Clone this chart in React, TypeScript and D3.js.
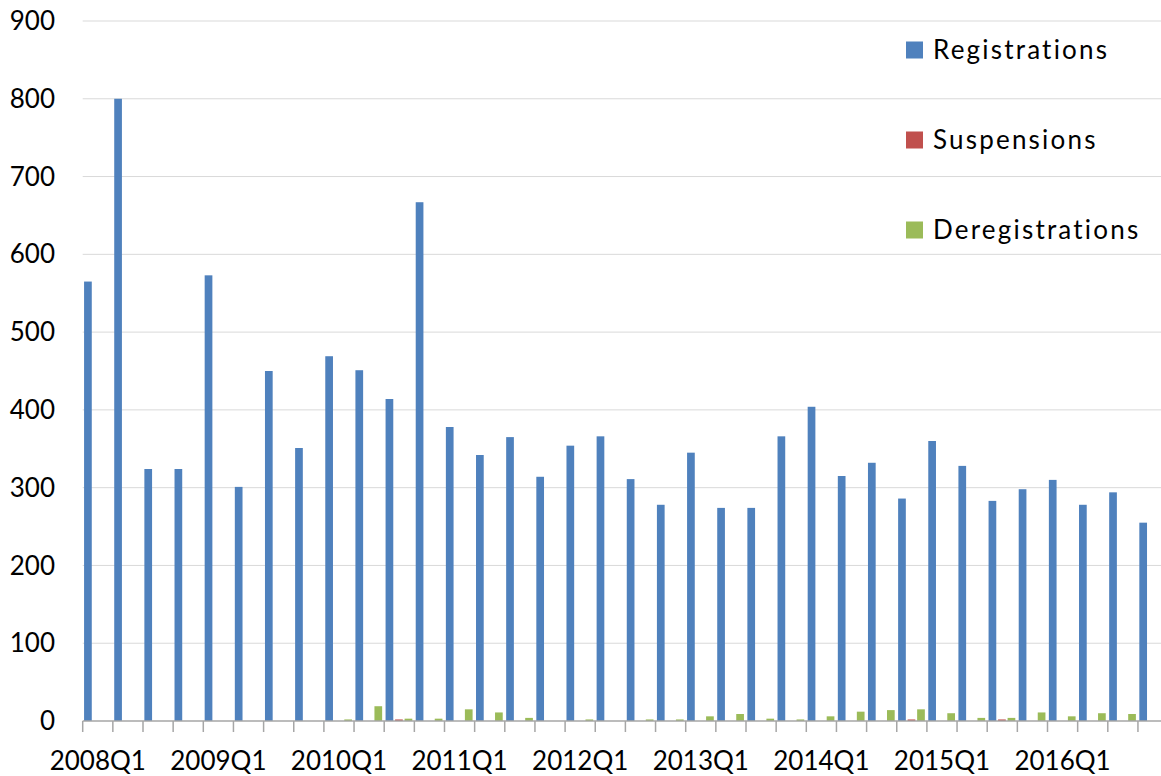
import React from "react";
import * as d3 from "d3";

const quarters: string[] = [];
for (let y = 2008; y <= 2016; y++) for (let q = 1; q <= 4; q++) quarters.push(`${y}Q${q}`);

const seriesNames = ["Registrations", "Suspensions", "Deregistrations"];
const seriesColors = ["#4f81bd", "#c0504d", "#9bbb59"];

const registrations = [
  565, 800, 324, 324, 573, 301, 450, 351, 469, 451, 414, 667,
  378, 342, 365, 314, 354, 366, 311, 278, 345, 274, 274, 366,
  404, 315, 332, 286, 360, 328, 283, 298, 310, 278, 294, 255,
];
const suspensions = [
  0, 0, 0, 0, 0, 0, 0, 0, 0, 0, 2, 0,
  0, 0, 0, 0, 0, 0, 0, 0, 0, 0, 0, 0,
  0, 0, 0, 2, 0, 0, 2, 0, 0, 0, 0, 0,
];
const deregistrations = [
  0, 0, 0, 0, 0, 0, 0, 0, 2, 19, 3, 3,
  15, 11, 4, 0, 2, 0, 2, 2, 6, 9, 3, 2,
  6, 12, 14, 15, 10, 4, 4, 11, 6, 10, 9, 0,
];
const yTicks = [0, 100, 200, 300, 400, 500, 600, 700, 800, 900];

const W = 1161;
const H = 776;
const FONT = "Lato, 'Open Sans', sans-serif";

export default function App() {
  const catW = 30.15;
  const x0 = 82.7;
  const x = d3.scaleBand<string>().domain(quarters).range([x0, x0 + catW * quarters.length]).paddingInner(0).paddingOuter(0);
  const x1 = d3.scaleBand<string>().domain(seriesNames).range([0, x.bandwidth()]).paddingInner(0.19).paddingOuter(0.18).align(0.4);
  const y = d3.scaleLinear().domain([0, 900]).range([721, 21]);
  const data = [registrations, suspensions, deregistrations];
  const labelQuarters = quarters.filter((q) => q.endsWith("Q1"));
  const boundaries = quarters.map((q) => x(q) as number);

  return (
    <svg width={W} height={H} style={{ position: "absolute", left: 0, top: 0, background: "#fff" }} fontFamily={FONT}>
      <rect x={0} y={0} width={W} height={H} fill="#fff" />
      {yTicks.slice(1).map((t) => (
        <line key={t} x1={x0} x2={W} y1={y(t)} y2={y(t)} stroke="#d9d9d9" strokeWidth={1} />
      ))}
      {yTicks.map((t) => (
        <text key={t} x={55} y={y(t)} dy="0.35em" textAnchor="end" fontSize={26} fill="#000">
          {t}
        </text>
      ))}
      {data.map((vals, si) =>
        vals.map((v, i) =>
          v > 0 ? (
            <rect
              key={`${si}-${i}`}
              x={(x(quarters[i]) as number) + (x1(seriesNames[si]) as number)}
              y={y(v)}
              width={x1.bandwidth()}
              height={y(0) - y(v)}
              fill={seriesColors[si]}
            />
          ) : null
        )
      )}
      <line x1={x0} x2={W} y1={y(0)} y2={y(0)} stroke="#a6a6a6" strokeWidth={1.5} />
      {boundaries.map((b, i) => (
        <line key={i} x1={b} x2={b} y1={y(0)} y2={732} stroke="#a6a6a6" strokeWidth={1.5} />
      ))}
      {labelQuarters.map((q) => (
        <text key={q} x={(x(q) as number) + x.bandwidth() / 2} y={770} textAnchor="middle" fontSize={26} fill="#000">
          {q}
        </text>
      ))}
      {seriesNames.map((s, i) => (
        <g key={s} transform={`translate(0, ${50 + i * 90})`}>
          <rect x={906} y={-8.5} width={17} height={17} fill={seriesColors[i]} />
          <text x={933} y={0} dy="0.35em" fontSize={26} fill="#000" letterSpacing={2.2}>
            {s}
          </text>
        </g>
      ))}
    </svg>
  );
}
